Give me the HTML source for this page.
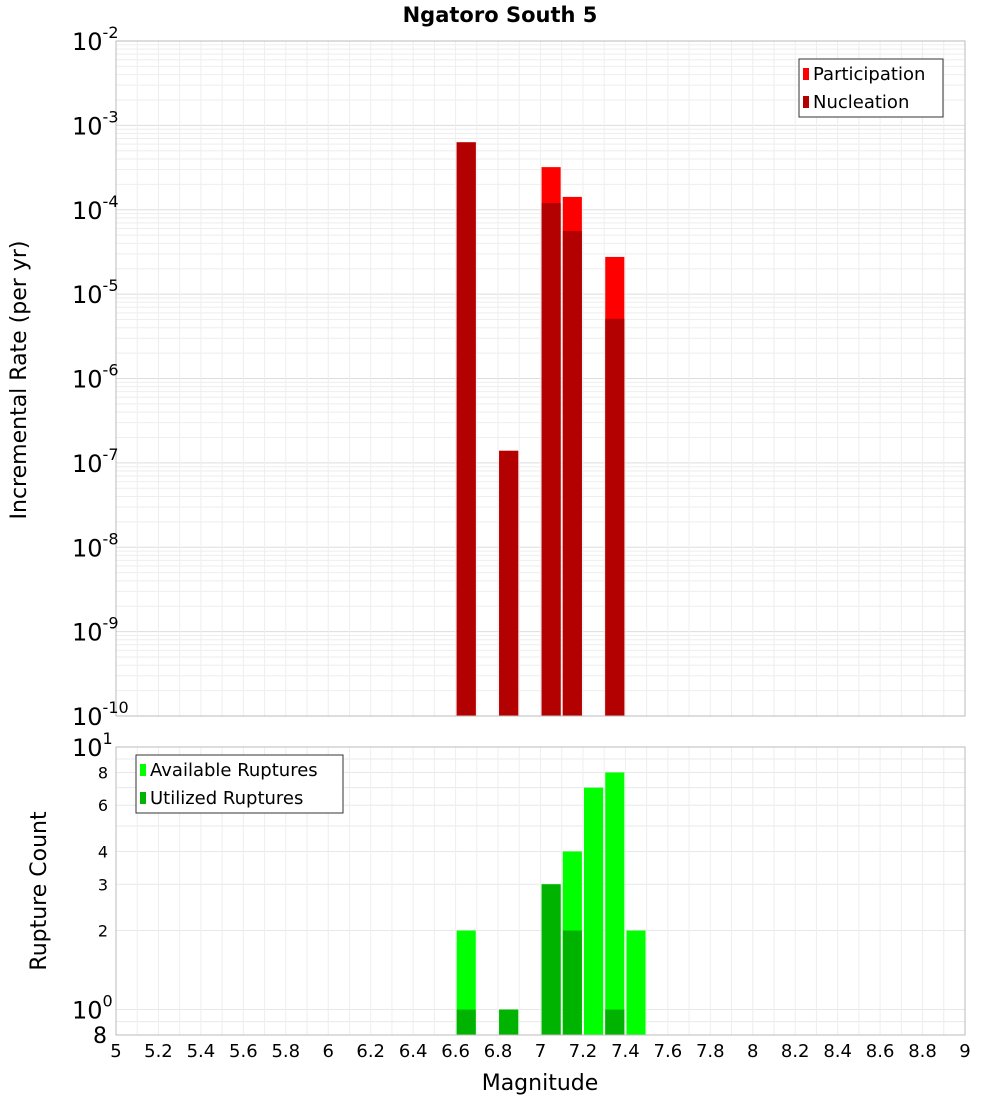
<!DOCTYPE html>
<html><head><meta charset="utf-8"><style>body{margin:0;background:#fff}svg{font-family:"DejaVu Sans","Liberation Sans",sans-serif}</style></head>
<body>
<svg id="c" width="1000" height="1100" xmlns="http://www.w3.org/2000/svg"></svg>
<script>
const topMags=[6.65,6.85,7.05,7.15,7.35];
const participation=[6.3e-4,1.39e-7,3.2e-4,1.42e-4,2.76e-5];
const nucleation=[6.3e-4,1.39e-7,1.2e-4,5.6e-5,5.1e-6];
const botMags=[6.65,6.85,7.05,7.15,7.25,7.35,7.45];
const available=[2,1,3,4,7,8,2];
const utilized=[1,1,3,2,0,1,0];
const xTicks=[5,5.2,5.4,5.6,5.8,6,6.2,6.4,6.6,6.8,7,7.2,7.4,7.6,7.8,8,8.2,8.4,8.6,8.8,9];
const topExps=[-2,-3,-4,-5,-6,-7,-8,-9,-10];
const botTicks=[8,6,4,3,2];

const S=document.getElementById('c');const NS='http://www.w3.org/2000/svg';
function el(t,a,p){const e=document.createElementNS(NS,t);for(const k in a)e.setAttribute(k,a[k]);(p||S).appendChild(e);return e;}
const X0=116,X1=965,T0=41,T1=716,B0=747,B1=1035;
const xs=v=>X0+(v-5)/4*(X1-X0);
const yt=v=>T0+(-2-Math.log10(v))/8*(T1-T0);
const bMin=Math.log10(0.8),bMax=1;
const yb=v=>B1-(Math.log10(v)-bMin)/(bMax-bMin)*(B1-B0);
const bw=(xs(5.09)-xs(5));

for(let d=-10;d<-2;d++)for(let m=1;m<10;m++){const y=yt(m*Math.pow(10,d));const l=el('line',{x1:X0,x2:X1,y1:y,y2:y,stroke:m==1?'#ddd':'#eee','stroke-width':1});}
[0.8,0.9,1,2,3,4,5,6,7,8,9,10].forEach(v=>{const y=yb(v);const l=el('line',{x1:X0,x2:X1,y1:y,y2:y,stroke:'#e8e8e8'});});
for(let v=5;v<=9.001;v+=0.1){const x=xs(v);el('line',{x1:x,x2:x,y1:T0,y2:T1,stroke:'#eee'});el('line',{x1:x,x2:x,y1:B0,y2:B1,stroke:'#eee'});}

topMags.forEach((m,i)=>{const x=xs(m)-bw/2;
 const p=el('rect',{x:x,y:yt(participation[i]),width:bw,height:T1-yt(participation[i]),fill:'#ff0000'});
 
 const n=el('rect',{x:x,y:yt(nucleation[i]),width:bw,height:T1-yt(nucleation[i]),fill:'#b30000'});
 });
botMags.forEach((m,i)=>{const x=xs(m)-bw/2;
 const a=el('rect',{x:x,y:yb(available[i]),width:bw,height:B1-yb(available[i]),fill:'#00ff00'});
 
 if(utilized[i]>0){const u=el('rect',{x:x,y:yb(utilized[i]),width:bw,height:B1-yb(utilized[i]),fill:'#00b300'});
 }});

el('rect',{x:X0,y:T0,width:X1-X0,height:T1-T0,fill:'none',stroke:'#bbb'});
el('rect',{x:X0,y:B0,width:X1-X0,height:B1-B0,fill:'none',stroke:'#bbb'});

function txt(x,y,s,a,name){const t=el('text',Object.assign({x:x,y:y},a));t.textContent=s;return t;}
txt(500,22,'Ngatoro South 5',{'font-size':21,'font-weight':'bold','text-anchor':'middle'},'chart-title');
function pow(y,e){const t=txt(72,y+9,'',{'font-size':24},'y-tick-label');
 const a=document.createElementNS(NS,'tspan');a.textContent='10';t.appendChild(a);
 const b=document.createElementNS(NS,'tspan');b.setAttribute('dy','-12');b.setAttribute('font-size','16');b.textContent=e;t.appendChild(b);}
topExps.forEach(e=>pow(yt(Math.pow(10,e)),String(e)));
pow(yb(10),'1');pow(yb(1),'0');
botTicks.forEach(v=>txt(108,yb(v)+6,String(v),{'font-size':16,'text-anchor':'end'},'y-tick-label'));
txt(107,1043,'8',{'font-size':22,'text-anchor':'end'},'y-tick-label');
xTicks.forEach(v=>txt(xs(v),1057,String(Math.round(v*10)/10),{'font-size':18,'text-anchor':'middle'},'x-tick-label'));
txt(540,1090,'Magnitude',{'font-size':22,'text-anchor':'middle'},'x-axis-title');
txt(26,380,'Incremental Rate (per yr)',{'font-size':22,'text-anchor':'middle',transform:'rotate(-90 26 380)'},'y-axis-title-top');
txt(46,891,'Rupture Count',{'font-size':22,'text-anchor':'middle',transform:'rotate(-90 46 891)'},'y-axis-title-bottom');

function legend(x,y,w,items,name){const g=el('g',{});
 el('rect',{x:x,y:y,width:w,height:58,fill:'#fff',stroke:'#333'},g);
 items.forEach(([c,s],i)=>{el('rect',{x:x+4,y:y+9+i*28,width:6,height:12,fill:c},g);
 const t=el('text',{x:x+14,y:y+21+i*28,'font-size':18},g);t.textContent=s;});}
legend(799,59,144,[['#ff0000','Participation'],['#b30000','Nucleation']],'top-legend');
legend(136,755,207,[['#00ff00','Available Ruptures'],['#00b300','Utilized Ruptures']],'bottom-legend');
</script>
</body></html>
